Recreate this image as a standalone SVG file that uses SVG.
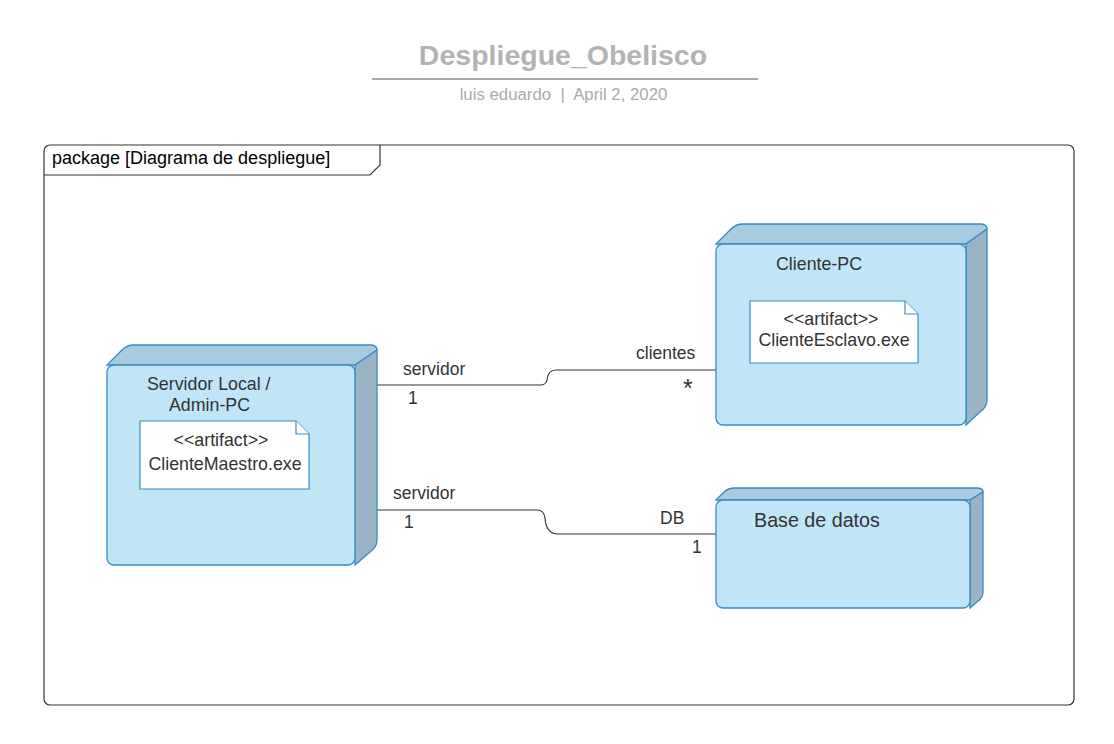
<svg xmlns="http://www.w3.org/2000/svg" width="1114" height="744" viewBox="0 0 1114 744">
<style>
text{font-family:"Liberation Sans",Arial,sans-serif;fill:#333}
.front{fill:#c1e4f6;stroke:#3a8bc3;stroke-width:1.3}
.top{fill:#a9cbdf;stroke:#3a8bc3;stroke-width:1.3}
.side{fill:#9ab4c6;stroke:#3a8bc3;stroke-width:1.3}
.art{fill:#fff;stroke:#3a8bc3;stroke-width:1.2}
.nl{font-size:17.8px}
.al{font-size:17.8px;text-anchor:middle}
.lbl{font-size:17.5px}
.conn{fill:none;stroke:#333;stroke-width:1.2}
</style>
<rect width="1114" height="744" fill="#fff"/>
<g id="title">
<text x="563" y="65" text-anchor="middle" style="font-size:28.5px;font-weight:bold;fill:#b3b3b3">Despliegue_Obelisco</text>
<line x1="372" y1="79" x2="758" y2="79" stroke="#aaa" stroke-width="2"/>
<text x="563.5" y="100" text-anchor="middle" style="font-size:16.8px;fill:#aaa;white-space:pre" xml:space="preserve">luis eduardo  |  April 2, 2020</text>
</g>
<g id="package">
<rect x="44" y="145" width="1030" height="560" rx="6" fill="none" stroke="#333" stroke-width="1.2"/>
<path d="M44 175 H370 L380 165 V145" fill="none" stroke="#333" stroke-width="1.2"/>
<text x="52" y="164" style="font-size:18px;fill:#000">package [Diagrama de despliegue]</text>
</g>
<g id="connectors">
<path class="conn" d="M377 385 H540 Q546 385 547 380 Q548 370 556 370 H716"/>
<path class="conn" d="M377 510 H537 Q544 510 545 518 Q546 534 558 534 H716"/>
<text class="lbl" x="403" y="375">servidor</text>
<text class="lbl" x="408" y="404">1</text>
<text class="lbl" x="636" y="359">clientes</text>
<text x="683" y="397" style="font-size:25px">*</text>
<text class="lbl" x="393" y="499">servidor</text>
<text class="lbl" x="404" y="528">1</text>
<text class="lbl" x="660" y="524">DB</text>
<text class="lbl" x="692" y="553">1</text>
</g>
<g id="servidor">
<path class="top" d="M107 365 L122 350 Q127 345 134 345 H370 Q377 345 377 350 L355 365 Z"/>
<path class="side" d="M355 365 L377 350 V540 Q377 547 370 552 L355 565 Z"/>
<rect class="front" x="107" y="365" width="248" height="200" rx="7"/>
<text class="nl" x="147" y="390">Servidor Local /</text>
<text class="nl" x="169" y="411">Admin-PC</text>
<path class="art" d="M140 421 H296 L309 434 V489 H140 Z"/>
<path class="art" d="M296 421 V434 H309" fill="none"/>
<text class="al" x="221" y="446">&lt;&lt;artifact&gt;&gt;</text>
<text class="al" x="225" y="470">ClienteMaestro.exe</text>
</g>
<g id="cliente">
<path class="top" d="M716 244 L731 229 Q736 224 743 224 H980 Q987 224 987 229 L966 244 Z"/>
<path class="side" d="M966 244 L987 229 V400 Q987 407 980 412 L966 425 Z"/>
<rect class="front" x="716" y="244" width="250" height="181" rx="7"/>
<text class="nl" x="776" y="270">Cliente-PC</text>
<path class="art" d="M750 301 H905 L918 314 V363 H750 Z"/>
<path class="art" d="M905 301 V314 H918" fill="none"/>
<text class="al" x="831" y="325">&lt;&lt;artifact&gt;&gt;</text>
<text class="al" x="834" y="346">ClienteEsclavo.exe</text>
</g>
<g id="basedatos">
<path class="top" d="M716 500 L724 492 Q728 488 735 488 H977 Q983 488 983 492 L970 500 Z"/>
<path class="side" d="M970 500 L983 492 V592 Q983 598 977 602 L970 608 Z"/>
<rect class="front" x="716" y="500" width="254" height="108" rx="7"/>
<text x="754" y="527" style="font-size:19.7px">Base de datos</text>
</g>
</svg>
